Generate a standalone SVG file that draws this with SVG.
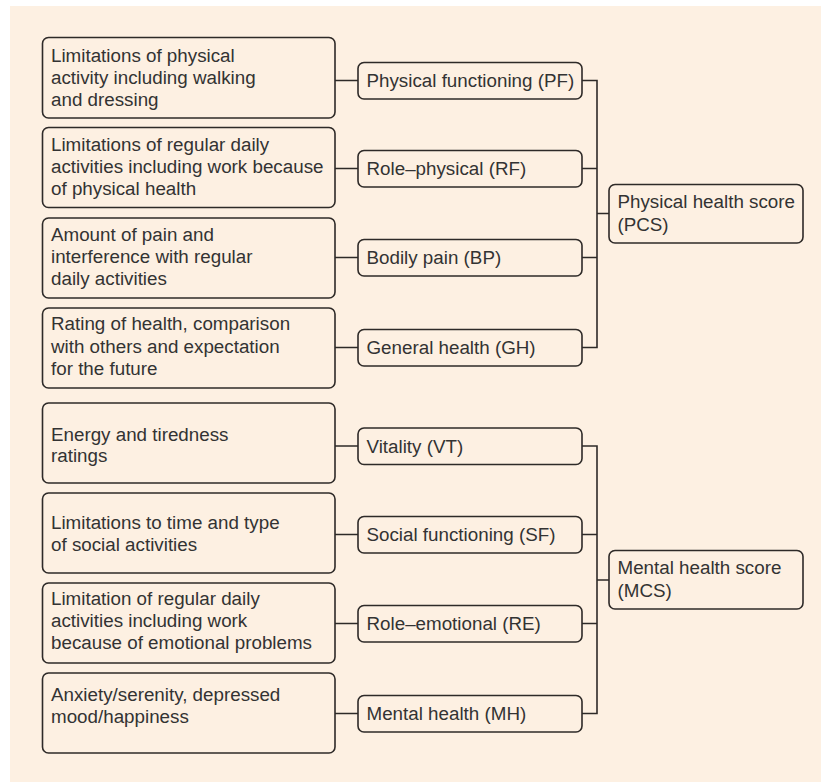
<svg xmlns="http://www.w3.org/2000/svg" width="821" height="782" viewBox="0 0 821 782">
<style>
.bg{fill:#fdf0e2}
.box{fill:#fdf0e2;stroke:#2e2a28;stroke-width:1.6}
.c{fill:none;stroke:#2e2a28;stroke-width:1.6}
text{font-family:"Liberation Sans",Arial,sans-serif;font-size:18.8px;fill:#333}
</style>
<rect x="0" y="0" width="821" height="782" fill="#ffffff"/>
<rect class="bg" x="10" y="6" width="811" height="776"/>
<g id="connectors">
<path class="c" d="M335 80.5H358M335 168.5H358M335 257.5H358M335 347.5H358"/>
<path class="c" d="M582 80.5H597V347.5H582M582 168.5H597M582 257.5H597M597 213.5H609"/>
<path class="c" d="M335 446H358M335 534.5H358M335 623.5H358M335 713.5H358"/>
<path class="c" d="M582 446H597V713.5H582M582 534.5H597M582 623.5H597M597 580H609"/>
</g>
<g id="d1"><rect class="box" x="42.5" y="37.5" width="292.5" height="80.5" rx="6"/><text><tspan x="51" y="62">Limitations of physical</tspan><tspan x="51" y="84">activity including walking</tspan><tspan x="51" y="106">and dressing</tspan></text></g>
<g id="d2"><rect class="box" x="42.5" y="127.5" width="292.5" height="80" rx="6"/><text><tspan x="51" y="151">Limitations of regular daily</tspan><tspan x="51" y="173">activities including work because</tspan><tspan x="51" y="195">of physical health</tspan></text></g>
<g id="d3"><rect class="box" x="42.5" y="218" width="292.5" height="80" rx="6"/><text><tspan x="51" y="241">Amount of pain and</tspan><tspan x="51" y="263">interference with regular</tspan><tspan x="51" y="285">daily activities</tspan></text></g>
<g id="d4"><rect class="box" x="42.5" y="308" width="292.5" height="80" rx="6"/><text><tspan x="51" y="330">Rating of health, comparison</tspan><tspan x="51" y="352.5">with others and expectation</tspan><tspan x="51" y="374.5">for the future</tspan></text></g>
<g id="d5"><rect class="box" x="42.5" y="403" width="292.5" height="80" rx="6"/><text><tspan x="51" y="440.5">Energy and tiredness</tspan><tspan x="51" y="462">ratings</tspan></text></g>
<g id="d6"><rect class="box" x="42.5" y="493" width="292.5" height="80" rx="6"/><text><tspan x="51" y="529">Limitations to time and type</tspan><tspan x="51" y="551">of social activities</tspan></text></g>
<g id="d7"><rect class="box" x="42.5" y="583" width="292.5" height="80" rx="6"/><text><tspan x="51" y="605">Limitation of regular daily</tspan><tspan x="51" y="627">activities including work</tspan><tspan x="51" y="649">because of emotional problems</tspan></text></g>
<g id="d8"><rect class="box" x="42.5" y="673" width="292.5" height="80" rx="6"/><text><tspan x="51" y="701">Anxiety/serenity, depressed</tspan><tspan x="51" y="723">mood/happiness</tspan></text></g>
<g id="pf"><rect class="box" x="358" y="62.5" width="224" height="36.5" rx="6"/><text x="366.5" y="87">Physical functioning (PF)</text></g>
<g id="rf"><rect class="box" x="358" y="150.5" width="224" height="36.5" rx="6"/><text x="366.5" y="175">Role–physical (RF)</text></g>
<g id="bp"><rect class="box" x="358" y="239.5" width="224" height="36.5" rx="6"/><text x="366.5" y="264">Bodily pain (BP)</text></g>
<g id="gh"><rect class="box" x="358" y="329.5" width="224" height="36.5" rx="6"/><text x="366.5" y="354">General health (GH)</text></g>
<g id="vt"><rect class="box" x="358" y="428" width="224" height="36.5" rx="6"/><text x="366.5" y="452.5">Vitality (VT)</text></g>
<g id="sf"><rect class="box" x="358" y="516.5" width="224" height="36.5" rx="6"/><text x="366.5" y="541">Social functioning (SF)</text></g>
<g id="re"><rect class="box" x="358" y="605.5" width="224" height="36.5" rx="6"/><text x="366.5" y="630">Role–emotional (RE)</text></g>
<g id="mh"><rect class="box" x="358" y="695.5" width="224" height="36.5" rx="6"/><text x="366.5" y="720">Mental health (MH)</text></g>
<g id="pcs"><rect class="box" x="609" y="184.5" width="194" height="58.5" rx="6"/><text><tspan x="617.5" y="208">Physical health score</tspan><tspan x="617.5" y="230.5">(PCS)</tspan></text></g>
<g id="mcs"><rect class="box" x="609" y="550.5" width="194" height="58.5" rx="6"/><text><tspan x="617.5" y="573.5">Mental health score</tspan><tspan x="617.5" y="596.5">(MCS)</tspan></text></g>
</svg>
